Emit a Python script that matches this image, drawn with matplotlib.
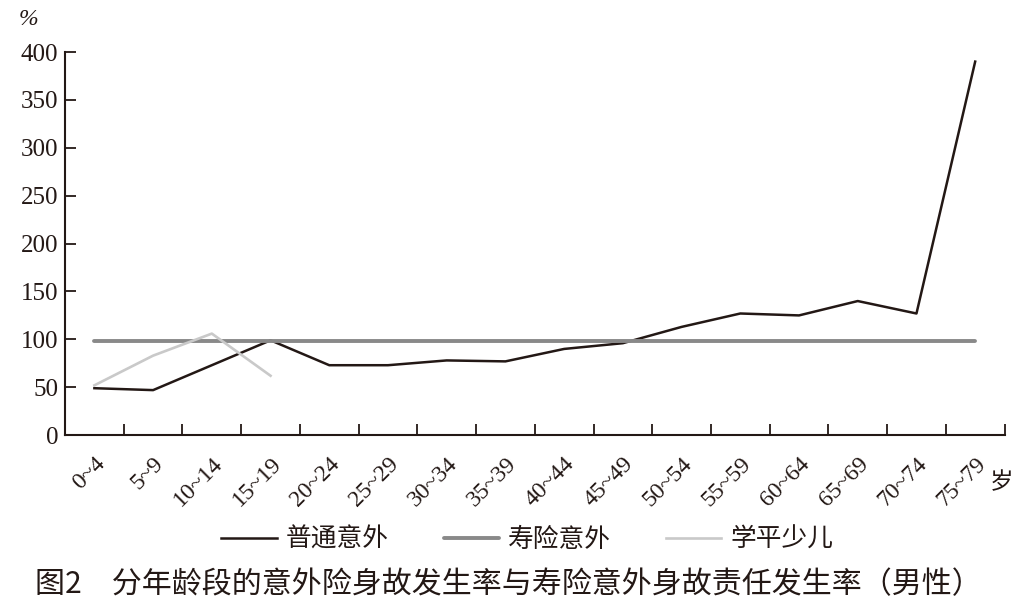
import matplotlib.pyplot as plt
import numpy as np

# ====== 数据 ======
age_groups = ["0~4", "5~9", "10~14", "15~19", "20~24", "25~29", "30~34", "35~39",
              "40~44", "45~49", "50~54", "55~59", "60~64", "65~69", "70~74", "75~79"]
putong = [49, 47, 73, 99, 73, 73, 78, 77, 90, 96, 113, 127, 125, 140, 127, 390]
shouxian = [98] * 16
xueping = [52, 83, 106, 62]

plt.rcParams['font.family'] = ['Liberation Serif', 'Noto Sans CJK SC']
cjk = ['Noto Sans CJK SC', 'DejaVu Sans']
ink = '#231815'

fig = plt.figure(figsize=(10.24, 6.12), dpi=100)
ax = fig.add_axes([0.0635, 0.289, 0.9175, 0.626])

x = np.arange(len(age_groups))
l1, = ax.plot(x, putong, color=ink, lw=1.8, label='普通意外')
l2, = ax.plot(x, shouxian, color='#898989', lw=2.8, solid_capstyle='round', label='寿险意外')
l3, = ax.plot(x[:len(xueping)], xueping, color='#c9c9c9', lw=1.9, label='学平少儿')

ax.set_xlim(-0.5, len(age_groups) - 0.5)
ax.set_ylim(0, 400)
ax.set_yticks(range(0, 401, 50))
ax.set_yticklabels([str(v) for v in range(0, 401, 50)], fontsize=18, color=ink)

ax.set_xticks(x)
ax.set_xticklabels(age_groups, rotation=45, ha='right', va='top', rotation_mode='anchor',
                   fontsize=17, color=ink)
ax.set_xticks(np.arange(0.5, len(age_groups), 1), minor=True)
ax.tick_params(axis='x', which='major', length=0, pad=13)
ax.tick_params(axis='x', which='minor', direction='in', length=8, width=1.3, color=ink)
ax.tick_params(axis='y', direction='in', length=8, width=1.3, color=ink, pad=5)

for s in ['top', 'right']:
    ax.spines[s].set_visible(False)
for s in ['left', 'bottom']:
    ax.spines[s].set_linewidth(1.5)
    ax.spines[s].set_color(ink)

fig.text(0.028, 0.968, '%', fontsize=17, style='italic', ha='center', va='center', color=ink)
fig.text(0.978, 0.212, '岁', fontfamily=cjk, fontsize=17, fontweight='light',
         ha='center', va='center', color=ink)

fig.legend(handles=[l1, l2, l3], loc='center', bbox_to_anchor=(0.515, 0.118), ncol=3,
           frameon=False, prop={'family': cjk, 'size': 18.5, 'weight': 'light'},
           handlelength=2.15, handletextpad=0.35, columnspacing=2.15, labelcolor=ink)

fig.text(0.496, 0.045, '图2　分年龄段的意外险身故发生率与寿险意外身故责任发生率（男性）',
         fontfamily=cjk, fontsize=21.6, fontweight='medium', ha='center', va='center', color=ink)

fig.savefig('out.png', dpi=100, facecolor='white')
